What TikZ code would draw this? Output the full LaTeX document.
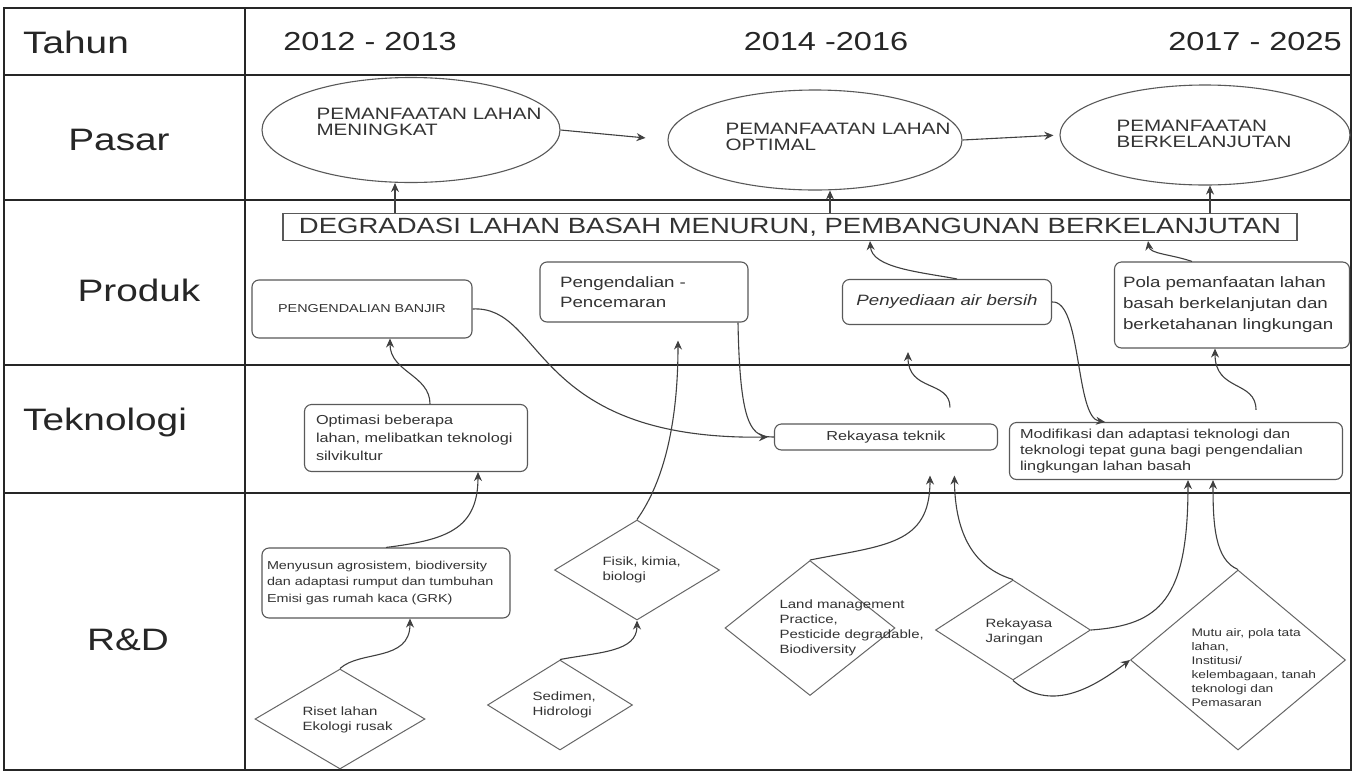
\documentclass[tikz,border=0pt]{standalone}
\usepackage{fontspec}
\setmainfont{Liberation Sans}[FakeStretch=1.25]
\usetikzlibrary{shapes.geometric,arrows.meta}
\newcommand{\fsz}[2]{\fontsize{#1}{#2}\selectfont}
\begin{document}
\begin{tikzpicture}[x=1pt,y=-1pt,
  grid/.style={line width=1.6pt, black!85},
  rowlab/.style={font=\fsz{31}{36}, text=black!85},
  yearlab/.style={font=\fsz{26}{30}, text=black!85},
  box/.style={draw=black!65, line width=1.1pt, rounded corners=7pt, inner sep=0pt, align=left, text=black!80},
  ell/.style={ellipse, draw=black!65, line width=1.1pt, inner sep=0pt},
  dia/.style={diamond, draw=black!60, line width=1pt, inner sep=0pt},
  etext/.style={font=\fsz{16.5}{16}, align=left, anchor=west, text=black!80},
  dtext/.style={font=\fsz{12}{15}, align=left, anchor=west, text=black!80},
  arr/.style={-{Stealth[length=9pt,width=8pt]}, line width=1.1pt, black!75},
  con/.style={line width=1.1pt, black!75}]
\useasboundingbox (0,0) rectangle (1353,772);
\fill[white] (0,0) rectangle (1353,772);
% table
\draw[grid] (4,8) rectangle (1351,770);
\draw[grid] (245,8) -- (245,770);
\foreach \yy in {75,200,365,493} {\draw[grid] (4,\yy) -- (1351,\yy);}
% row labels
\node[rowlab] (lt) at (76,42) {Tahun};
\node[rowlab] (lp) at (119,140) {Pasar};
\node[rowlab] (lpr) at (139,290) {Produk};
\node[rowlab] (ltk) at (105,422) {Teknologi};
\node[rowlab] (lrd) at (128,640) {R\&D};
% years
\node[yearlab] (y1) at (370,42) {2012 - 2013};
\node[yearlab] (y2) at (826,42) {2014 -2016};
\node[yearlab] (y3) at (1255,42) {2017 - 2025};
% Pasar ellipses
\node[ell, minimum width=298pt, minimum height=105pt] (e1) at (411,130) {};
\node[ell, minimum width=294pt, minimum height=100pt] (e2) at (815,140) {};
\node[ell, minimum width=290pt, minimum height=100pt] (e3) at (1205,135) {};
\node[etext] (e1t) at (313,122) {PEMANFAATAN LAHAN\\ MENINGKAT};
\node[etext] (e2t) at (722,137) {PEMANFAATAN LAHAN\\OPTIMAL};
\node[etext] (e3t) at (1113,134) {PEMANFAATAN\\BERKELANJUTAN};
\draw[arr, shorten >=22pt] (e1.east) -- (e2.west);
\draw[arr, shorten >=6pt] (e2.east) -- (e3.west);
% big box
\node[draw=black!65, line width=1.1pt, minimum width=1014pt, minimum height=27pt, inner sep=0pt, font=\fsz{22}{24}, text=black!80] (deg) at (790,227) {DEGRADASI LAHAN BASAH MENURUN, PEMBANGUNAN BERKELANJUTAN};
\coordinate (a1) at ([xshift=-16pt]e1.south);
\coordinate (a2) at ([xshift=15pt]e2.south);
\coordinate (a3) at ([xshift=5pt]e3.south);
\draw[arr] (deg.north -| a1) -- (a1);
\draw[arr] (deg.north -| a2) -- (a2);
\draw[arr] (deg.north -| a3) -- (a3);
% Produk boxes
\node[box, minimum width=220pt, minimum height=58pt, font=\fsz{11.5}{14}] (b1) at (362,309) {PENGENDALIAN BANJIR};
\node[box, minimum width=208pt, minimum height=60pt, text width=168pt, font=\fsz{15}{20}] (b2) at (644,292) {Pengendalian -\\Pencemaran};
\node[box, minimum width=209pt, minimum height=45pt, font=\fsz{15}{18}\itshape] (b3) at (947,302) {Penyediaan air bersih};
\node[box, minimum width=235pt, minimum height=86pt, text width=218pt, font=\fsz{15}{21}] (b4) at (1232,305) {Pola pemanfaatan lahan\\basah berkelanjutan dan\\berketahanan lingkungan};
% Teknologi boxes
\node[box, minimum width=223pt, minimum height=67pt, text width=200pt, font=\fsz{13}{18}] (t1) at (416,438) {Optimasi beberapa\\lahan, melibatkan teknologi\\silvikultur};
\node[box, minimum width=223pt, minimum height=26pt, font=\fsz{13}{15}] (t2) at (886,437) {Rekayasa teknik};
\node[box, minimum width=333pt, minimum height=57pt, text width=312pt, font=\fsz{13}{16}] (t3) at (1176,451) {Modifikasi dan adaptasi teknologi dan\\teknologi tepat guna bagi pengendalian\\lingkungan lahan basah};
% R&D
\node[box, minimum width=248pt, minimum height=70pt, text width=238pt, font=\fsz{11.5}{16.5}] (rb1) at (386,583) {Menyusun agrosistem, biodiversity\\dan adaptasi rumput dan tumbuhan\\Emisi gas rumah kaca (GRK)};
\node[dia, minimum width=165pt, minimum height=100pt] (d1) at (637,570) {};
\node[dia, minimum width=170pt, minimum height=100pt] (d2) at (340,719) {};
\node[dia, minimum width=145pt, minimum height=90pt] (d3) at (560,705) {};
\node[dia, minimum width=170pt, minimum height=135pt] (d4) at (810,628) {};
\node[dia, minimum width=155pt, minimum height=100pt] (d5) at (1013,630) {};
\node[dia, minimum width=215pt, minimum height=180pt] (d6) at (1238,660) {};
\node[dtext] (d1t) at (599,570) {Fisik, kimia,\\biologi};
\node[dtext] (d2t) at (299,720) {Riset lahan\\Ekologi rusak};
\node[dtext] (d3t) at (529,705) {Sedimen,\\Hidrologi};
\node[dtext] (d4t) at (776,628) {Land management\\Practice,\\Pesticide degradable,\\Biodiversity};
\node[dtext] (d5t) at (982,632) {Rekayasa\\Jaringan};
\node[dtext, font=\fsz{11}{14}] (d6t) at (1188,668) {Mutu air, pola tata\\lahan,\\Institusi/\\kelembagaan, tanah\\teknologi dan\\Pemasaran};
% connectors
\draw[arr] ([xshift=14pt]t1.north) .. controls (430,375) and (390,372) .. ([xshift=28pt]b1.south);
\draw[arr, shorten >=6pt] (b1.east) .. controls (545,305) and (530,440) .. (t2.west);
\draw[con] ([xshift=94pt]b2.south) .. controls (740,430) and (752,437) .. (t2.west);
\draw[arr, shorten >=18pt] (d1.north) .. controls (665,480) and (678,420) .. ([xshift=34pt]b2.south);
\draw[arr] (d3.north) .. controls (600,652) and (637,652) .. (d1.south);
\draw[arr] (d2.north) .. controls (360,650) and (410,662) .. ([xshift=24pt]rb1.south);
\draw[arr] (rb1.north) .. controls (445,540) and (478,530) .. ([xshift=62pt]t1.south);
\draw[arr, shorten <=16pt, shorten >=27pt] ([xshift=64pt]t2.north) .. controls (950,380) and (908,392) .. ([xshift=-39pt]b3.south);
\draw[arr, shorten <=12pt] ([xshift=80pt]t3.north) .. controls (1256,380) and (1215,392) .. ([xshift=-17pt]b4.south);
\draw[arr] (b3.east) .. controls (1082,300) and (1075,418) .. ([xshift=-71pt]t3.north);
\coordinate (g1) at ([xshift=80pt]deg.south);
\coordinate (g2) at ([xshift=358pt]deg.south);
\draw[arr] ([xshift=10pt]b3.north) .. controls (920,272) and (872,268) .. (g1);
\draw[arr] ([xshift=-40pt]b4.north) .. controls (1170,254) and (1150,254) .. (g2);
\draw[arr, shorten >=25pt] (d4.north) .. controls (885,545) and (930,545) .. ([xshift=44pt]t2.south);
\draw[arr, shorten >=25pt] (d5.north) .. controls (965,565) and (955,520) .. ([xshift=68pt]t2.south);
\draw[arr] (d5.east) .. controls (1160,625) and (1188,600) .. ([xshift=12pt]t3.south);
\draw[arr] (d6.north) .. controls (1215,560) and (1213,525) .. ([xshift=37pt]t3.south);
\draw[arr] (d5.south) .. controls (1050,712) and (1090,690) .. (d6.west);
\end{tikzpicture}
\end{document}
